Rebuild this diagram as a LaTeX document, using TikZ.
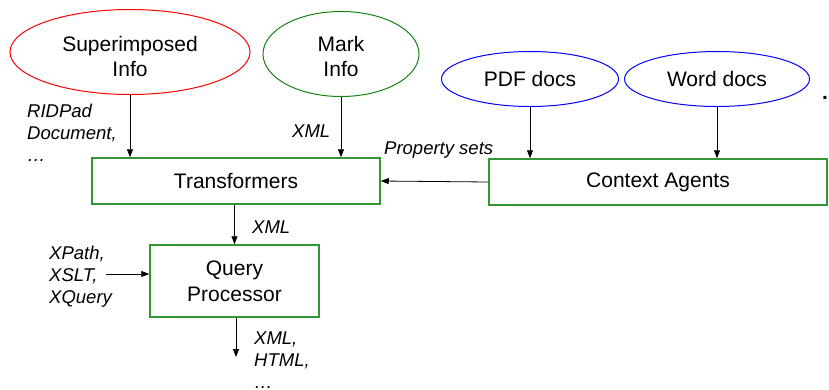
\documentclass[tikz,border=0pt]{standalone}
\usepackage{fontspec}
\setmainfont{Liberation Sans}
\usetikzlibrary{arrows.meta, positioning, shapes.geometric}
\definecolor{markgreen}{RGB}{20,130,20}
\definecolor{boxgreen}{RGB}{50,150,50}

\begin{document}
\begin{tikzpicture}[
    x=1pt, y=-1pt,
    bubble/.style={ellipse, draw=#1, line width=1pt, inner sep=0pt, align=center, font=\fontsize{21}{25}\selectfont},
    stage/.style={rectangle, draw=boxgreen, line width=1.5pt, inner sep=0pt, align=center, font=\fontsize{21}{26}\selectfont},
    note/.style={inner sep=0pt, align=left, font=\fontsize{18.5}{22}\selectfont\itshape},
    flow/.style={-{Triangle[length=8pt, width=6pt]}, line width=0.8pt}
]
\useasboundingbox (0,0) rectangle (829,389);

\node[bubble=red, minimum width=240pt, minimum height=85pt] (superinfo) at (130,52) {\rule{0pt}{25pt}Superimposed\\Info};
\node[bubble=markgreen, minimum width=156pt, minimum height=85pt] (markinfo) at (341,54) {\rule{0pt}{21pt}Mark\\Info};
\node[bubble=blue, minimum width=177pt, minimum height=55pt] (pdfdocs) at (530,79) {PDF docs};
\node[bubble=blue, minimum width=185pt, minimum height=55pt] (worddocs) at (717,79) {Word docs};

\node[stage, minimum width=288pt, minimum height=46pt] (trans) at (236,181) {Transformers};
\node[stage, minimum width=338pt, minimum height=46pt] (agents) at (658,182) {Context Agents};
\node[stage, minimum width=169pt, minimum height=72pt] (query) at (234.5,281) {Query\\Processor};

\node[note, anchor=north west] (ridpad) at (27,103.5) {RIDPad\\Document,\\\ldots};
\node[note, anchor=base west] (markxml) at (292,137) {XML};
\node[note, anchor=base west] (propsets) at (384,154) {Property sets};
\node[note, anchor=base west] (transxml) at (252,233) {XML};
\node[note, anchor=north west] (qlangs) at (49,245.5) {XPath,\\XSLT,\\XQuery};
\node[note, anchor=north west] (qresult) at (254,332) {XML,\\HTML,\\\ldots};
\node[font=\fontsize{21}{25}\selectfont\bfseries] (stray) at (825,98) {.};

\coordinate (qin) at (106,274);
\coordinate (qout) at (236,357);

\draw[flow] (superinfo.south) -- (superinfo.south |- trans.north);
\draw[flow] (markinfo.south) -- (markinfo.south |- trans.north);
\draw[flow] (pdfdocs.south) -- (pdfdocs.south |- agents.north);
\draw[flow] (worddocs.south) -- (worddocs.south |- agents.north);
\draw[flow] (agents.west) -- (trans.east);
\draw[flow] (query.north |- trans.south) -- (query.north);
\draw[flow] (qin) -- (qin -| query.west);
\draw[flow] (qout |- query.south) -- (qout);

\end{tikzpicture}
\end{document}
